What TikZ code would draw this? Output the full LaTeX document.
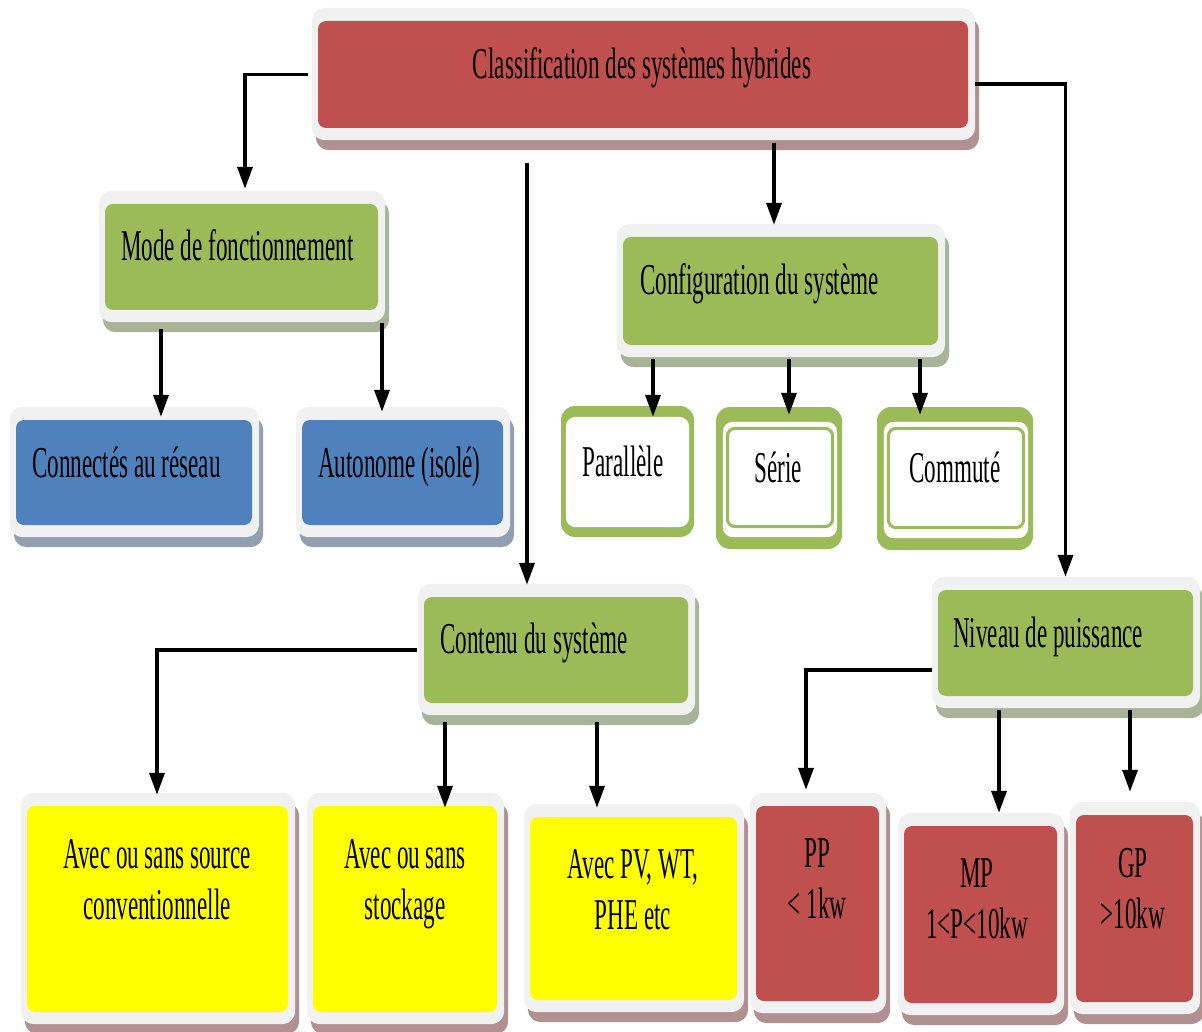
\documentclass[tikz,border=0pt]{standalone}
\usepackage{fontspec}
\setmainfont{Liberation Serif}[FakeStretch=0.525]
\usetikzlibrary{arrows.meta,calc,backgrounds}

\definecolor{boxred}{HTML}{C0504D}
\definecolor{boxgreen}{HTML}{9BBB59}
\definecolor{boxblue}{HTML}{4F81BD}
\definecolor{boxyellow}{HTML}{FFFF00}
\definecolor{framegray}{HTML}{F1F1F1}
\definecolor{shadered}{HTML}{B09090}
\definecolor{shadegreen}{HTML}{A9B398}
\definecolor{shadeblue}{HTML}{929FB0}

% light frame with a drop shadow around a coloured panel
\newcommand\framedpanel[2]{%
  \fill[#2, rounded corners=13pt] ($(#1.north west)+(-2,-3)$) rectangle ($(#1.south east)+(11,22)$);
  \fill[framegray, rounded corners=13pt] ($(#1.north west)+(-6,-13)$) rectangle ($(#1.south east)+(7,12)$);
}

\tikzset{
  panel/.style={rounded corners=8pt, inner sep=0pt, draw=none},
  ringbox/.style={rounded corners=14pt, inner sep=0pt, fill=boxgreen, draw=none},
  label/.style={inner sep=0pt, font=\fontsize{44}{51}\selectfont},
  arr/.style={line width=3.5pt, -{Triangle[width=15pt,length=22pt]}},
}

\begin{document}
\begin{tikzpicture}[x=1pt,y=-1pt]
\useasboundingbox (0,0) rectangle (1202,1032);

% coloured panels
\node[panel, fill=boxred,    minimum width=650pt, minimum height=107pt] (title)   at (643,74.5) {};
\node[panel, fill=boxgreen,  minimum width=273pt, minimum height=106pt] (mode)    at (241.5,257) {};
\node[panel, fill=boxblue,   minimum width=236pt, minimum height=105pt] (conn)    at (134,472.5) {};
\node[panel, fill=boxblue,   minimum width=201pt, minimum height=105pt] (auto)    at (402.5,472.5) {};
\node[panel, fill=boxgreen,  minimum width=315pt, minimum height=108pt] (config)  at (780.5,291) {};
\node[panel, fill=boxgreen,  minimum width=264pt, minimum height=106pt] (contenu) at (556,650) {};
\node[panel, fill=boxgreen,  minimum width=255pt, minimum height=106pt] (niveau)  at (1065.5,643) {};
\node[panel, fill=boxyellow, minimum width=261pt, minimum height=206pt] (src)     at (157.5,909) {};
\node[panel, fill=boxyellow, minimum width=184pt, minimum height=206pt] (stock)   at (405,909) {};
\node[panel, fill=boxyellow, minimum width=207pt, minimum height=183pt] (pv)      at (633.5,908.5) {};
\node[panel, fill=boxred,    minimum width=123pt, minimum height=195pt] (pp)      at (817.5,903.5) {};
\node[panel, fill=boxred,    minimum width=153pt, minimum height=177pt] (mp)      at (980.5,914.5) {};
\node[panel, fill=boxred,    minimum width=117pt, minimum height=187pt] (gp)      at (1134.5,908.5) {};

% green-ringed configuration boxes
\node[ringbox, minimum width=133pt, minimum height=131pt] (para)  at (627.5,471.5) {};
\node[ringbox, minimum width=126pt, minimum height=142pt] (serie) at (779,478) {};
\node[ringbox, minimum width=156pt, minimum height=143pt] (comm)  at (955,478.5) {};
\fill[white, rounded corners=10pt] ($(para.north west)+(5,11)$) rectangle ($(para.south east)+(-5,-10)$);
\foreach \b in {serie,comm}{
  \fill[white, rounded corners=10pt] ($(\b.north west)+(7,15)$) rectangle ($(\b.south east)+(-5,-12)$);
  \draw[boxgreen, line width=3pt, rounded corners=8pt] ($(\b.north west)+(11.5,21.5)$) rectangle ($(\b.south east)+(-9.5,-22.5)$);
}

% page background, frames and shadows behind the panels
\begin{scope}[on background layer]
  \fill[white] (0,0) rectangle (1202,1032);
  \framedpanel{title}{shadered}
  \framedpanel{mode}{shadegreen}
  \framedpanel{conn}{shadeblue}
  \framedpanel{auto}{shadeblue}
  \framedpanel{config}{shadegreen}
  \framedpanel{contenu}{shadegreen}
  \framedpanel{niveau}{shadegreen}
  \framedpanel{src}{shadered}
  \framedpanel{stock}{shadered}
  \framedpanel{pv}{shadered}
  \framedpanel{pp}{shadered}
  \framedpanel{mp}{shadered}
  \framedpanel{gp}{shadered}
\end{scope}

% texts (two-line labels are anchored on their last baseline)
\node[label, anchor=base] (ttitle) at (642,79) {Classification des systèmes hybrides};
\node[label, anchor=base west] (tmode) at (121,261) {Mode de fonctionnement};
\node[label, anchor=base west] (tconn) at (32,477) {Connectés au réseau};
\node[label, anchor=base west] (tauto) at (318,477) {Autonome (isolé)};
\node[label, anchor=base west] (tconfig) at (640,295) {Configuration du système};
\node[label, anchor=base] (tpara) at (623,476) {Parallèle};
\node[label, anchor=base] (tserie) at (778,482) {Série};
\node[label, anchor=base] (tcomm) at (955,482) {Commuté};
\node[label, anchor=base west] (tcontenu) at (440,653) {Contenu du système};
\node[label, anchor=base west] (tniveau) at (953,647) {Niveau de puissance};
\node[label, anchor=base, align=center] (tsrc) at (157,919) {Avec ou sans source\\conventionnelle};
\node[label, anchor=base, align=center] (tstock) at (405,919) {Avec ou sans\\stockage};
\node[label, anchor=base, align=center] (tpv) at (633,929) {Avec PV, WT,\\PHE etc};
\node[label, anchor=base, align=center] (tpp) at (817,918) {PP\\< 1kw};
\node[label, anchor=base, align=center] (tmp) at (977,938) {MP\\1<P<10kw};
\node[label, anchor=base, align=center] (tgp) at (1133,928) {GP\\>10kw};

% connectors
\coordinate (cstart) at (527,163);
\draw[arr] ($(title.west)+(-10,0)$) -| ($(mode.north)+(3.5,-15)$);
\draw[arr] ($(title.south)+(131,15)$) -- ($(config.north)+(-6.5,-12)$);
\draw[arr] (cstart) -- ($(contenu.north)+(-29,-12)$);
\draw[arr] ($(title.east)+(7,9.5)$) -| ($(niveau.north)+(0,-13)$);
\draw[arr] ($(mode.south)+(-80.5,19)$) -- ($(conn.north)+(27,-3)$);
\draw[arr] ($(mode.south)+(140.5,13)$) -- ($(auto.north)+(-20.5,-8)$);
\draw[arr] ($(config.south)+(-127.5,14)$) -- ($(para.north)+(25.5,11)$);
\draw[arr] ($(config.south)+(8.5,14)$) -- ($(serie.north)+(10,8)$);
\draw[arr] ($(config.south)+(139.5,14)$) -- ($(comm.north)+(-35,8)$);
\draw[arr] ($(contenu.west)+(-7,0)$) -| ($(src.north)+(-0.5,-11)$);
\draw[arr] ($(contenu.south)+(-111,19)$) -- ($(stock.north)+(40,2)$);
\draw[arr] ($(contenu.south)+(41,19)$) -- ($(pv.north)+(-36.5,-9)$);
\draw[arr] ($(niveau.west)+(-6,27)$) -| ($(pp.north)+(-11.5,-16)$);
\draw[arr] ($(niveau.south)+(-66.5,14)$) -- ($(mp.north)+(18.5,-13)$);
\draw[arr] ($(niveau.south)+(64.5,14)$) -- ($(gp.north)+(-4.5,-23)$);
\end{tikzpicture}
\end{document}
